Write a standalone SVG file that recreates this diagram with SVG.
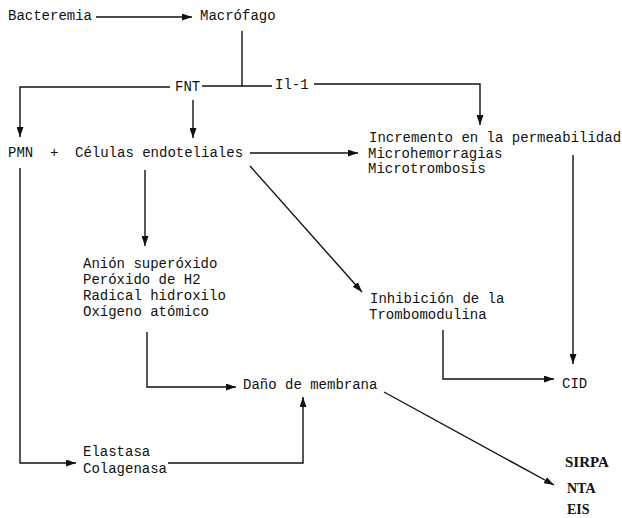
<svg xmlns="http://www.w3.org/2000/svg" width="622" height="518" viewBox="0 0 622 518">
<style>
text{font-family:"Liberation Mono","DejaVu Sans Mono",monospace;font-size:14px;fill:#111}
.b{font-family:"Liberation Serif","DejaVu Serif",serif;font-weight:bold;font-size:14px}
.c{fill:none;stroke:#111;stroke-width:1.4}
</style>
<defs>
<marker id="ah" viewBox="0 0 10 7" refX="10" refY="3.5" markerWidth="10" markerHeight="7" markerUnits="userSpaceOnUse" orient="auto">
<path d="M0,0 L10,3.5 L0,7 z" fill="#111"/>
</marker>
</defs>
<rect width="622" height="518" fill="#fff"/>
<g id="connectors">
<line class="c" x1="96" y1="17" x2="192" y2="17" marker-end="url(#ah)"/>
<polyline class="c" points="242,31 242,86"/>
<polyline class="c" points="202,86 272,86"/>
<polyline class="c" points="170,87 20,87 20,137" marker-end="url(#ah)"/>
<line class="c" x1="193" y1="100" x2="193" y2="138" marker-end="url(#ah)"/>
<polyline class="c" points="314,84 480,84 480,125" marker-end="url(#ah)"/>
<line class="c" x1="250" y1="153" x2="358" y2="153" marker-end="url(#ah)"/>
<line class="c" x1="250" y1="166" x2="362" y2="292" marker-end="url(#ah)"/>
<line class="c" x1="145" y1="170" x2="145" y2="246" marker-end="url(#ah)"/>
<line class="c" x1="573" y1="155" x2="573" y2="364" marker-end="url(#ah)"/>
<polyline class="c" points="443,330 443,379 554,379" marker-end="url(#ah)"/>
<polyline class="c" points="147,332 147,387 236,387" marker-end="url(#ah)"/>
<polyline class="c" points="20,168 20,463 76,463" marker-end="url(#ah)"/>
<polyline class="c" points="168,463 303,463 303,397" marker-end="url(#ah)"/>
<line class="c" x1="384" y1="392" x2="554" y2="485" marker-end="url(#ah)"/>
</g>
<g id="bacteremia"><text x="8" y="20">Bacteremia</text></g>
<g id="macrofago"><text x="200" y="20">Macrófago</text></g>
<g id="fnt"><text x="175" y="91">FNT</text></g>
<g id="il1"><text x="275" y="89">Il-1</text></g>
<g id="pmn"><text x="8" y="157">PMN</text></g>
<g id="plus"><text x="50" y="157">+</text></g>
<g id="celulas"><text x="75" y="157">Células endoteliales</text></g>
<g id="incremento">
<text x="369" y="142">Incremento en la permeabilidad</text>
<text x="368" y="158">Microhemorragias</text>
<text x="368" y="173">Microtrombosis</text>
</g>
<g id="radicales">
<text x="83" y="268">Anión superóxido</text>
<text x="83" y="284">Peróxido de H2</text>
<text x="83" y="300">Radical hidroxilo</text>
<text x="83" y="316">Oxígeno atómico</text>
</g>
<g id="inhibicion">
<text x="370" y="303">Inhibición de la</text>
<text x="369" y="319">Trombomodulina</text>
</g>
<g id="dano"><text x="243" y="389">Daño de membrana</text></g>
<g id="cid"><text x="562" y="388">CID</text></g>
<g id="enzimas">
<text x="83" y="456">Elastasa</text>
<text x="83" y="473">Colagenasa</text>
</g>
<g id="sirpa"><text class="b" x="565" y="467" style="font-size:15px">SIRPA</text></g>
<g id="nta"><text class="b" x="567" y="493">NTA</text></g>
<g id="eis"><text class="b" x="567" y="514">EIS</text></g>
</svg>
